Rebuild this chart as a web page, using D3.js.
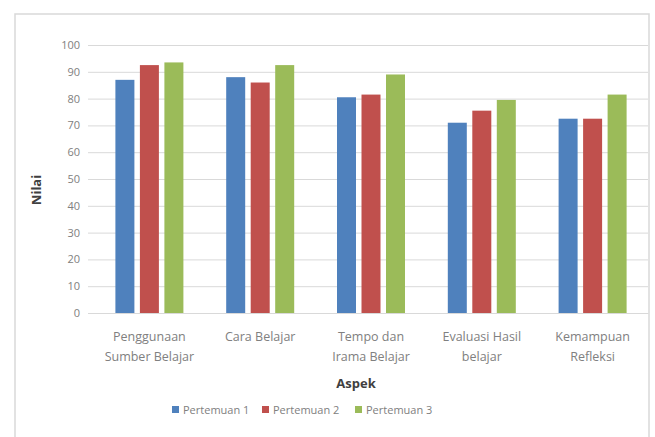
<!DOCTYPE html>
<html><head><meta charset="utf-8">
<script src="https://cdn.jsdelivr.net/npm/d3@7"></script>
<style>body{margin:0;background:#fff}svg{display:block}text{font-family:"Open Sans",sans-serif}</style>
</head><body><svg id="c" width="655" height="437"></svg>
<script>
const categories = [["Penggunaan","Sumber Belajar"],["Cara Belajar"],["Tempo dan","Irama Belajar"],["Evaluasi Hasil","belajar"],["Kemampuan","Refleksi"]];
const seriesNames = ["Pertemuan 1","Pertemuan 2","Pertemuan 3"];
const pertemuan1 = [87, 88, 80.5, 71, 72.5];
const pertemuan2 = [92.5, 86, 81.5, 75.5, 72.5];
const pertemuan3 = [93.5, 92.5, 89, 79.5, 81.5];
const yTicks = [0,10,20,30,40,50,60,70,80,90,100];
const colors = ["#4F81BD","#C0504D","#9BBB59"];
const seriesVals = [pertemuan1, pertemuan2, pertemuan3];

const svg = d3.select("#c");
svg.append("rect").attr("x",15).attr("y",14).attr("width",634).attr("height",440)
  .attr("fill","#fff").attr("stroke","#d9d9d9").attr("stroke-width",1.5);

const idx = categories.map((d,i)=>i);
const x0 = d3.scaleBand().domain(idx).range([94,648]);
const x1 = d3.scaleBand().domain(d3.range(3)).range([-34,34]).paddingInner(0.2245);
const y = d3.scaleLinear().domain([0,100]).range([313,45]);

const gy = svg.append("g").attr("transform","translate(88,0)")
  .call(d3.axisLeft(y).tickValues(yTicks).tickSize(-560).tickPadding(8));
gy.select(".domain").remove();
gy.selectAll(".tick line").attr("stroke","#d9d9d9");
gy.selectAll(".tick text").attr("fill","#808080").style("font-size","11px");

const groups = svg.append("g").selectAll("g").data(idx).join("g")
  .attr("transform",i=>`translate(${x0(i)+x0.bandwidth()/2},0)`);
groups.selectAll("rect").data(i=>seriesVals.map((s,k)=>({k,v:s[i]}))).join("rect")
  .attr("x",d=>x1(d.k)).attr("width",x1.bandwidth())
  .attr("y",d=>y(d.v)).attr("height",d=>y(0)-y(d.v)).attr("fill",d=>colors[d.k]);

const gx = svg.append("g").attr("transform","translate(0,313)")
  .call(d3.axisBottom(x0).tickSize(0).tickFormat(""));
gx.select(".domain").attr("stroke","#d9d9d9");
gx.selectAll(".tick").each(function(i){
  const t = d3.select(this).append("text").attr("fill","#808080").attr("text-anchor","middle")
    .style("font-size","12.5px");
  categories[i].forEach((line,j)=>t.append("tspan").attr("x",0).attr("y",28+j*20).text(line));
});

svg.append("text").attr("transform","translate(41,190) rotate(-90)").attr("text-anchor","middle")
  .style("font-size","13px").style("font-weight","bold").attr("fill","#404040").text("Nilai");
svg.append("text").attr("x",356).attr("y",388).attr("text-anchor","middle")
  .style("font-size","13px").style("font-weight","bold").attr("fill","#404040").text("Aspek");

const legX = [172,262,355];
const leg = svg.append("g").selectAll("g").data(seriesNames).join("g")
  .attr("transform",(d,i)=>`translate(${legX[i]},410)`);
leg.append("rect").attr("x",0).attr("y",-4).attr("width",7).attr("height",7).attr("fill",(d,i)=>colors[i]);
leg.append("text").attr("x",11).attr("y",4).attr("fill","#808080").style("font-size","11px").text(d=>d);
</script></body></html>
